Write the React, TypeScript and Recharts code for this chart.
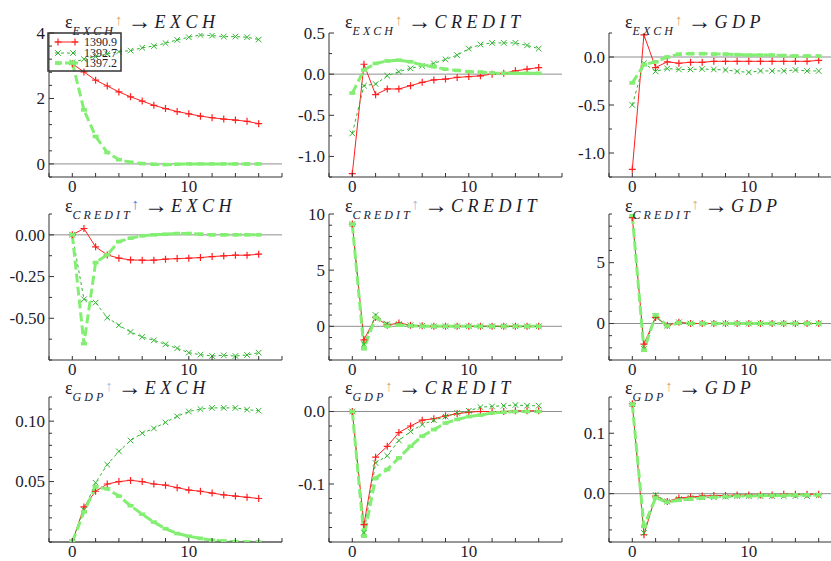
import React from "react";
import { Line, LineChart, ReferenceLine, XAxis, YAxis } from "recharts";

// impulse horizons
const steps = [0, 1, 2, 3, 4, 5, 6, 7, 8, 9, 10, 11, 12, 13, 14, 15, 16];
const xTicks = [-2, 0, 2, 4, 6, 8, 10, 12, 14, 16, 18];
const xLabels = [0, 10];

const seriesNames = ["1390.9", "1392.7", "1397.2"];

// shock EXCH
const exchExch1390 = [3.06, 2.81, 2.56, 2.38, 2.2, 2.05, 1.92, 1.79, 1.69, 1.6, 1.53, 1.46, 1.41, 1.37, 1.34, 1.3, 1.23];
const exchExch1392 = [3.1, 3.2, 3.28, 3.36, 3.43, 3.46, 3.55, 3.6, 3.69, 3.79, 3.87, 3.94, 3.92, 3.89, 3.89, 3.87, 3.8];
const exchExch1397 = [3.1, 1.65, 0.84, 0.35, 0.13, 0.05, 0.01, -0.01, -0.02, -0.01, 0, 0, 0, 0, 0, 0, 0];

const exchCredit1390 = [-1.21, 0.12, -0.25, -0.18, -0.18, -0.14, -0.1, -0.07, -0.06, -0.04, -0.03, -0.02, 0, 0.01, 0.04, 0.06, 0.08];
const exchCredit1392 = [-0.72, -0.14, -0.12, -0.02, 0.03, 0.07, 0.1, 0.13, 0.18, 0.23, 0.31, 0.36, 0.38, 0.38, 0.38, 0.35, 0.31];
const exchCredit1397 = [-0.23, 0.05, 0.13, 0.16, 0.17, 0.15, 0.11, 0.09, 0.06, 0.045, 0.03, 0.025, 0.015, 0.01, 0.01, 0.01, 0.01];

const exchGdp1390 = [-1.17, 0.23, -0.11, -0.05, -0.065, -0.055, -0.055, -0.045, -0.045, -0.045, -0.045, -0.045, -0.045, -0.045, -0.045, -0.045, -0.035];
const exchGdp1392 = [-0.5, -0.065, -0.15, -0.12, -0.13, -0.13, -0.125, -0.13, -0.135, -0.15, -0.16, -0.145, -0.145, -0.145, -0.135, -0.145, -0.145];
const exchGdp1397 = [-0.27, -0.08, -0.05, 0, 0.03, 0.035, 0.035, 0.03, 0.03, 0.025, 0.02, 0.02, 0.02, 0.015, 0.01, 0.01, 0.01];

// shock CREDIT
const creditExch1390 = [0, 0.038, -0.072, -0.12, -0.14, -0.15, -0.152, -0.152, -0.146, -0.142, -0.14, -0.136, -0.13, -0.126, -0.122, -0.122, -0.116];
const creditExch1392 = [0, -0.386, -0.406, -0.496, -0.542, -0.582, -0.612, -0.632, -0.656, -0.68, -0.706, -0.718, -0.726, -0.722, -0.726, -0.72, -0.706];
const creditExch1397 = [0, -0.652, -0.166, -0.12, -0.04, -0.02, -0.006, 0, 0.004, 0.008, 0.008, 0.004, 0, 0, 0, 0, 0];

const creditCredit1390 = [9.1, -1.2, 0.8, 0.1, 0.3, 0.1, 0.05, 0, 0, 0, 0, 0, 0, 0, 0, 0, 0];
const creditCredit1392 = [9.1, -1.6, 1.0, 0.2, 0.2, 0.1, 0.05, 0, 0, 0, 0, 0, 0, 0, 0, 0, 0];
const creditCredit1397 = [9.1, -2.0, 0.8, 0, 0.1, 0.05, 0, 0, 0, 0, 0, 0, 0, 0, 0, 0, 0];

const creditGdp1390 = [8.7, -1.7, 0.5, -0.15, 0.1, 0, 0, 0, 0, 0, 0, 0, 0, 0, 0, 0, 0];
const creditGdp1392 = [8.9, -2.1, 0.6, -0.2, 0.1, 0, 0, 0, 0, 0, 0, 0, 0, 0, 0, 0, 0];
const creditGdp1397 = [8.9, -2.2, 0.7, -0.2, 0.05, 0, 0, 0, 0, 0, 0, 0, 0, 0, 0, 0, 0];

// shock GDP
const gdpExch1390 = [0, 0.029, 0.042, 0.048, 0.05, 0.051, 0.05, 0.048, 0.047, 0.045, 0.043, 0.042, 0.0405, 0.039, 0.038, 0.037, 0.036];
const gdpExch1392 = [0, 0.0265, 0.049, 0.064, 0.075, 0.084, 0.09, 0.094, 0.099, 0.104, 0.108, 0.11, 0.111, 0.111, 0.111, 0.1095, 0.1087];
const gdpExch1397 = [0, 0.025, 0.0455, 0.044, 0.038, 0.03, 0.023, 0.0165, 0.011, 0.007, 0.0048, 0.003, 0.0014, 0.0008, 0.0003, 0, 0];

const gdpCredit1390 = [0, -0.156, -0.063, -0.048, -0.029, -0.02, -0.012, -0.01, -0.006, -0.003, -0.001, 0, 0, 0, 0.001, 0.001, 0.001];
const gdpCredit1392 = [0, -0.167, -0.071, -0.061, -0.04, -0.0275, -0.018, -0.012, -0.007, -0.002, 0.001, 0.006, 0.007, 0.008, 0.009, 0.008, 0.008];
const gdpCredit1397 = [0, -0.172, -0.092, -0.08, -0.064, -0.048, -0.034, -0.025, -0.016, -0.011, -0.007, -0.005, -0.002, -0.001, 0, 0, 0];

const gdpGdp1390 = [0.149, -0.068, -0.004, -0.013, -0.007, -0.0055, -0.004, -0.003, -0.003, -0.002, -0.002, -0.002, -0.002, -0.001, -0.001, -0.001, -0.001];
const gdpGdp1392 = [0.148, -0.065, -0.002, -0.013, -0.009, -0.007, -0.006, -0.006, -0.005, -0.004, -0.004, -0.004, -0.004, -0.004, -0.004, -0.004, -0.003];
const gdpGdp1397 = [0.148, -0.054, -0.007, -0.014, -0.011, -0.009, -0.007, -0.006, -0.005, -0.004, -0.004, -0.003, -0.003, -0.003, -0.002, -0.002, -0.002];

const RED = "#ff1f1f";
const GREEN = "#2fb52f";
const LIGHT = "#82ee72";
const AXIS = "#333333";
const TEXT = "#1c1c2c";
const SERIF = "Liberation Serif, DejaVu Serif, serif";

const Y_W = 50;
const TOP_M = 12;
const X_H = 22;
const PLOT_W = 233;

type PanelSpec = {
  left: number;
  top: number;
  height: number;
  domain: [number, number];
  ticks: number[];
  labels: number[];
  digits: number;
  a: number[];
  b: number[];
  c: number[];
  shock: string;
  target: string;
  arrow: string;
};

const colLeft = [49, 329, 609];
const rowTop = [33, 214, 397];
const rowHeight = [144, 146, 145];
const titleBase = [28, 212, 394];

const panels: PanelSpec[] = [
  { left: colLeft[0], top: rowTop[0], height: rowHeight[0], domain: [-0.4, 4], ticks: [-0.4, 0, 0.4, 0.8, 1.2, 1.6, 2, 2.4, 2.8, 3.2, 3.6, 4], labels: [0, 2, 4], digits: 0, a: exchExch1390, b: exchExch1392, c: exchExch1397, shock: "EXCH", target: "EXCH", arrow: "#e2a866" },
  { left: colLeft[1], top: rowTop[0], height: rowHeight[0], domain: [-1.25, 0.5], ticks: [-1.25, -1, -0.75, -0.5, -0.25, 0, 0.25, 0.5], labels: [-1, -0.5, 0, 0.5], digits: 1, a: exchCredit1390, b: exchCredit1392, c: exchCredit1397, shock: "EXCH", target: "CREDIT", arrow: "#e2a866" },
  { left: colLeft[2], top: rowTop[0], height: rowHeight[0], domain: [-1.25, 0.25], ticks: [-1.25, -1, -0.75, -0.5, -0.25, 0, 0.25], labels: [-1, -0.5, 0], digits: 1, a: exchGdp1390, b: exchGdp1392, c: exchGdp1397, shock: "EXCH", target: "GDP", arrow: "#e2a866" },
  { left: colLeft[0], top: rowTop[1], height: rowHeight[1], domain: [-0.75, 0.125], ticks: [-0.75, -0.625, -0.5, -0.375, -0.25, -0.125, 0, 0.125], labels: [-0.5, -0.25, 0], digits: 2, a: creditExch1390, b: creditExch1392, c: creditExch1397, shock: "CREDIT", target: "EXCH", arrow: "#4f86e0" },
  { left: colLeft[1], top: rowTop[1], height: rowHeight[1], domain: [-3, 10], ticks: [-3, -2, -1, 0, 1, 2, 3, 4, 5, 6, 7, 8, 9, 10], labels: [0, 5, 10], digits: 0, a: creditCredit1390, b: creditCredit1392, c: creditCredit1397, shock: "CREDIT", target: "CREDIT", arrow: "#9fb8d6" },
  { left: colLeft[2], top: rowTop[1], height: rowHeight[1], domain: [-3, 9], ticks: [-3, -2, -1, 0, 1, 2, 3, 4, 5, 6, 7, 8, 9], labels: [0, 5], digits: 0, a: creditGdp1390, b: creditGdp1392, c: creditGdp1397, shock: "CREDIT", target: "GDP", arrow: "#d8b07c" },
  { left: colLeft[0], top: rowTop[2], height: rowHeight[2], domain: [0, 0.12], ticks: [0, 0.01, 0.02, 0.03, 0.04, 0.05, 0.06, 0.07, 0.08, 0.09, 0.1, 0.11, 0.12], labels: [0.05, 0.1], digits: 2, a: gdpExch1390, b: gdpExch1392, c: gdpExch1397, shock: "GDP", target: "EXCH", arrow: "#a8c4e8" },
  { left: colLeft[1], top: rowTop[2], height: rowHeight[2], domain: [-0.18, 0.02], ticks: [-0.18, -0.16, -0.14, -0.12, -0.1, -0.08, -0.06, -0.04, -0.02, 0, 0.02], labels: [-0.1, 0], digits: 1, a: gdpCredit1390, b: gdpCredit1392, c: gdpCredit1397, shock: "GDP", target: "CREDIT", arrow: "#d8aa74" },
  { left: colLeft[2], top: rowTop[2], height: rowHeight[2], domain: [-0.08, 0.16], ticks: [-0.08, -0.06, -0.04, -0.02, 0, 0.02, 0.04, 0.06, 0.08, 0.1, 0.12, 0.14, 0.16], labels: [0, 0.1], digits: 1, a: gdpGdp1390, b: gdpGdp1392, c: gdpGdp1397, shock: "GDP", target: "GDP", arrow: "#d8aa74" }
];

function fmt(v: number, digits: number) {
  const s = v.toFixed(digits);
  return /^-0(\.0+)?$/.test(s) ? s.slice(1) : s;
}

function PlusDot(props: any) {
  const { cx, cy, index } = props;
  if (cx == null || cy == null) return <g key={`p${index}`} />;
  return (
    <path key={`p${index}`} d={`M${cx - 3.5},${cy}H${cx + 3.5}M${cx},${cy - 3.5}V${cy + 3.5}`} stroke={RED} strokeWidth={1.2} />
  );
}

function CrossDot(props: any) {
  const { cx, cy, index } = props;
  if (cx == null || cy == null) return <g key={`x${index}`} />;
  return (
    <path key={`x${index}`} d={`M${cx - 2.8},${cy - 2.8}L${cx + 2.8},${cy + 2.8}M${cx - 2.8},${cy + 2.8}L${cx + 2.8},${cy - 2.8}`} stroke={GREEN} strokeWidth={1} />
  );
}

function BlobDot(props: any) {
  const { cx, cy, index } = props;
  if (cx == null || cy == null) return <g key={`b${index}`} />;
  return <rect key={`b${index}`} x={cx - 3} y={cy - 1.8} width={6} height={3.6} fill={LIGHT} />;
}

function Panel({ spec }: { spec: PanelSpec }) {
  const data = steps.map((s, i) => ({ step: s, a: spec.a[i], b: spec.b[i], c: spec.c[i] }));
  const plotBottom = TOP_M + spec.height;

  const yTick = (p: any) => {
    const v = p.payload.value as number;
    const major = spec.labels.some((l) => Math.abs(l - v) < 1e-9);
    return (
      <g>
        <line x1={Y_W} x2={Y_W + (major ? 5 : 3)} y1={p.y} y2={p.y} stroke={AXIS} />
        {major && (
          <text x={Y_W - 4} y={p.y} dy="0.34em" textAnchor="end" fontFamily={SERIF} fontSize={17} fill={TEXT}>
            {fmt(v, spec.digits)}
          </text>
        )}
      </g>
    );
  };

  const xTick = (p: any) => {
    const v = p.payload.value as number;
    const major = xLabels.includes(v);
    return (
      <g>
        <line x1={p.x} x2={p.x} y1={plotBottom} y2={plotBottom - 4} stroke={AXIS} />
        {major && (
          <text x={p.x} y={plotBottom + 15} textAnchor="middle" fontFamily={SERIF} fontSize={17} fill={TEXT}>
            {v}
          </text>
        )}
      </g>
    );
  };

  return (
    <div style={{ position: "absolute", left: spec.left - Y_W, top: spec.top - TOP_M }}>
      <LineChart
        width={Y_W + PLOT_W + 6}
        height={TOP_M + spec.height + X_H}
        data={data}
        margin={{ top: TOP_M, right: 6, bottom: 0, left: 0 }}
      >
        <XAxis
          dataKey="step"
          type="number"
          domain={[-2, 18]}
          ticks={xTicks}
          interval={0}
          allowDataOverflow
          height={X_H}
          tickSize={0}
          tickMargin={0}
          tickLine={false}
          axisLine={{ stroke: AXIS }}
          tick={xTick}
        />
        <YAxis
          type="number"
          domain={spec.domain}
          ticks={spec.ticks}
          interval={0}
          allowDataOverflow
          width={Y_W}
          tickSize={0}
          tickMargin={0}
          tickLine={false}
          axisLine={{ stroke: AXIS }}
          tick={yTick}
        />
        <ReferenceLine y={0} stroke="#8f8f8f" strokeWidth={1} />
        <Line dataKey="a" stroke={RED} strokeWidth={1} dot={PlusDot} isAnimationActive={false} />
        <Line dataKey="b" stroke={GREEN} strokeWidth={1} strokeDasharray="3 3" dot={CrossDot} isAnimationActive={false} />
        <Line dataKey="c" stroke={LIGHT} strokeWidth={3} strokeDasharray="9 4" dot={BlobDot} isAnimationActive={false} />
      </LineChart>
    </div>
  );
}

function Title({ spec, baseline }: { spec: PanelSpec; baseline: number }) {
  return (
    <text x={spec.left + 16} y={baseline} fontFamily={SERIF} fontSize={18} fill={TEXT}>
      ε
      <tspan dy={7} fontSize={12} fontStyle="italic" letterSpacing={3}>{spec.shock}</tspan>
      <tspan dy={-10} dx={-1} fontSize={15} fill={spec.arrow}>↑</tspan>
      <tspan dy={4} dx={5} fontSize={24}>→</tspan>
      <tspan dy={-1} dx={3} fontSize={18} fontStyle="italic" letterSpacing={4.5}>{spec.target}</tspan>
    </text>
  );
}

function Legend() {
  const x0 = 48;
  const y0 = 33;
  const rows = [42, 53, 63];
  return (
    <g>
      <rect x={x0} y={y0} width={73} height={38} fill="none" stroke={AXIS} strokeWidth={1.5} />
      <line x1={55} x2={78} y1={rows[0]} y2={rows[0]} stroke={RED} />
      <PlusDot cx={58} cy={rows[0]} index={0} />
      <PlusDot cx={75} cy={rows[0]} index={1} />
      <line x1={55} x2={78} y1={rows[1]} y2={rows[1]} stroke={GREEN} strokeDasharray="3 3" />
      <CrossDot cx={58} cy={rows[1]} index={0} />
      <CrossDot cx={73} cy={rows[1]} index={1} />
      <line x1={55} x2={78} y1={rows[2]} y2={rows[2]} stroke={LIGHT} strokeWidth={3} strokeDasharray="7 3" />
      <BlobDot cx={58} cy={rows[2]} index={0} />
      <BlobDot cx={73} cy={rows[2]} index={1} />
      {seriesNames.map((n, i) => (
        <text key={n} x={84} y={rows[i]} dy="0.33em" fontFamily={SERIF} fontSize={12} fill={TEXT}>
          {n}
        </text>
      ))}
    </g>
  );
}

export default function App() {
  return (
    <div style={{ position: "absolute", left: 0, top: 0, width: 831, height: 561, overflow: "hidden", background: "#ffffff" }}>
      {panels.map((p, i) => (
        <Panel key={i} spec={p} />
      ))}
      <svg width={831} height={561} style={{ position: "absolute", left: 0, top: 0, pointerEvents: "none" }}>
        {panels.map((p, i) => (
          <Title key={i} spec={p} baseline={titleBase[Math.floor(i / 3)]} />
        ))}
        <Legend />
      </svg>
    </div>
  );
}
